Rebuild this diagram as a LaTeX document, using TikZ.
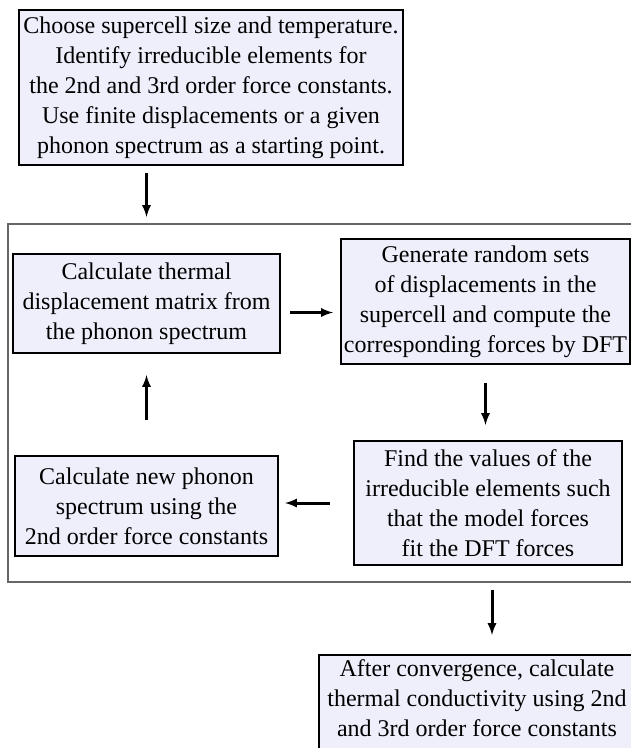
\documentclass[tikz,border=0pt]{standalone}
\usepackage{fontspec}
\setmainfont{Liberation Serif}
\usetikzlibrary{arrows}
\definecolor{boxfill}{HTML}{EFEFFC}
\definecolor{framegray}{HTML}{666666}

\begin{document}
\begin{tikzpicture}[x=1pt,y=-1pt,
  stage/.style={draw, line width=2pt, fill=boxfill, align=center, inner sep=0pt, font=\fontsize{24}{30}\selectfont},
  flow/.style={line width=3pt, -latex}]
\useasboundingbox (0,0) rectangle (631,748);

\node[draw=framegray, line width=1.5pt, minimum width=640pt, minimum height=358pt, anchor=north west] (loop) at (7,223) {};

\node[stage, minimum width=384pt, minimum height=155pt] (start) at (211,87.5) {Choose supercell size and temperature.\\ Identify irreducible elements for\\ the 2nd and 3rd order force constants.\\ Use finite displacements or a given\\ phonon spectrum as a starting point.};
\node[stage, minimum width=267pt, minimum height=99pt] (thermal) at (146.5,303.5) {Calculate thermal\\ displacement matrix from\\ the phonon spectrum};
\node[stage, minimum width=289pt, minimum height=125pt] (random) at (485.5,301.5) {Generate random sets\\ of displacements in the\\ supercell and compute the\\ corresponding forces by DFT};
\node[stage, minimum width=268pt, minimum height=124pt] (fitting) at (488,503) {Find the values of the\\ irreducible elements such\\ that the model forces\\ fit the DFT forces};
\node[stage, minimum width=263pt, minimum height=100pt] (phonon) at (146.5,506) {Calculate new phonon\\ spectrum using the\\ 2nd order force constants};
\node[stage, minimum width=316pt, text height=81.5pt, text depth=40pt, anchor=north west] (final) at (318,654) {After convergence, calculate\\ thermal conductivity using 2nd\\ and 3rd order force constants};

\draw[flow, shorten <=7pt, shorten >=6pt] (start.south -| thermal.north) -- (loop.north -| thermal.north);
\draw[flow, shorten <=9pt, shorten >=7pt] ([yshift=-9pt]thermal.east) -- ([yshift=-9pt]thermal.east -| random.west);
\draw[flow, shorten <=18pt, shorten >=15pt] (random.south) -- (random.south |- fitting.north);
\draw[flow, shorten <=23pt, shorten >=6pt] (fitting.west) -- (fitting.west -| phonon.east);
\draw[flow, shorten <=35pt, shorten >=21pt] (phonon.north) -- (phonon.north |- thermal.south);
\draw[flow, shorten <=7pt, shorten >=19pt] ([xshift=4pt]loop.south -| fitting.south) -- ([xshift=4pt]final.north -| fitting.south);

\end{tikzpicture}
\end{document}
